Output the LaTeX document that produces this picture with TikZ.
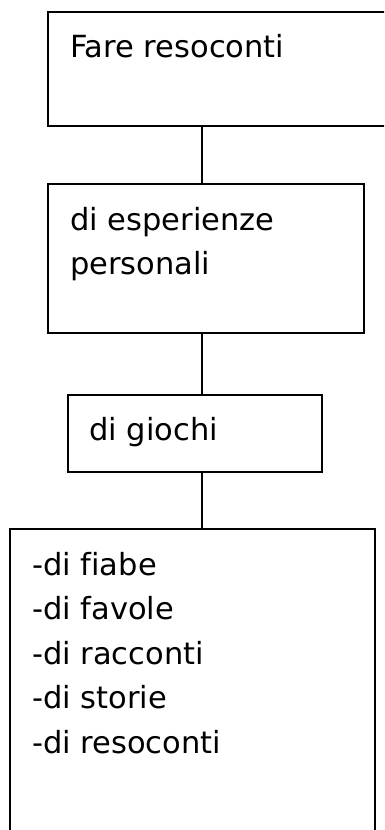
\documentclass[tikz,border=0pt]{standalone}
\usepackage{fontspec}
\setmainfont[Ligatures=NoCommon]{DejaVu Sans}
\begin{document}
\begin{tikzpicture}[x=1pt,y=-1pt,
	panel/.style={draw,line width=2pt,rectangle,inner sep=0pt},
	boxtext/.style={anchor=base west,inner sep=0pt,font=\fontsize{30.5}{44}\selectfont}]
	\useasboundingbox (0,0) rectangle (384,830);
	\clip (0,0) rectangle (384,830);
	\coordinate (spine) at (202,0);
	% boxes
	\node[panel,minimum width=352pt,minimum height=114pt] (fare) at (224,69) {};
	\node[panel,minimum width=316pt,minimum height=149pt] (esper) at (206,258.5) {};
	\node[panel,minimum width=254pt,minimum height=77pt] (giochi) at (195,433.5) {};
	\node[panel,minimum width=365pt,minimum height=331pt] (lista) at (192.5,694.5) {};
	% connectors
	\draw[line width=2pt] (fare.south -| spine) -- (esper.north -| spine);
	\draw[line width=2pt] (esper.south -| spine) -- (giochi.north -| spine);
	\draw[line width=2pt] (giochi.south -| spine) -- (lista.north -| spine);
	% texts
	\node[boxtext] (tfare) at (70,57) {Fare resoconti};
	\node[boxtext] (tesper) at (70,230) {di esperienze};
	\node[boxtext] (tpers) at (70,274) {personali};
	\node[boxtext] (tgiochi) at (89,440) {di giochi};
	\foreach \w [count=\i] in {fiabe,favole,racconti,storie,resoconti}
		\node[boxtext] (tl\i) at (32,{575+44.5*(\i-1)}) {-di \w};
\end{tikzpicture}
\end{document}
